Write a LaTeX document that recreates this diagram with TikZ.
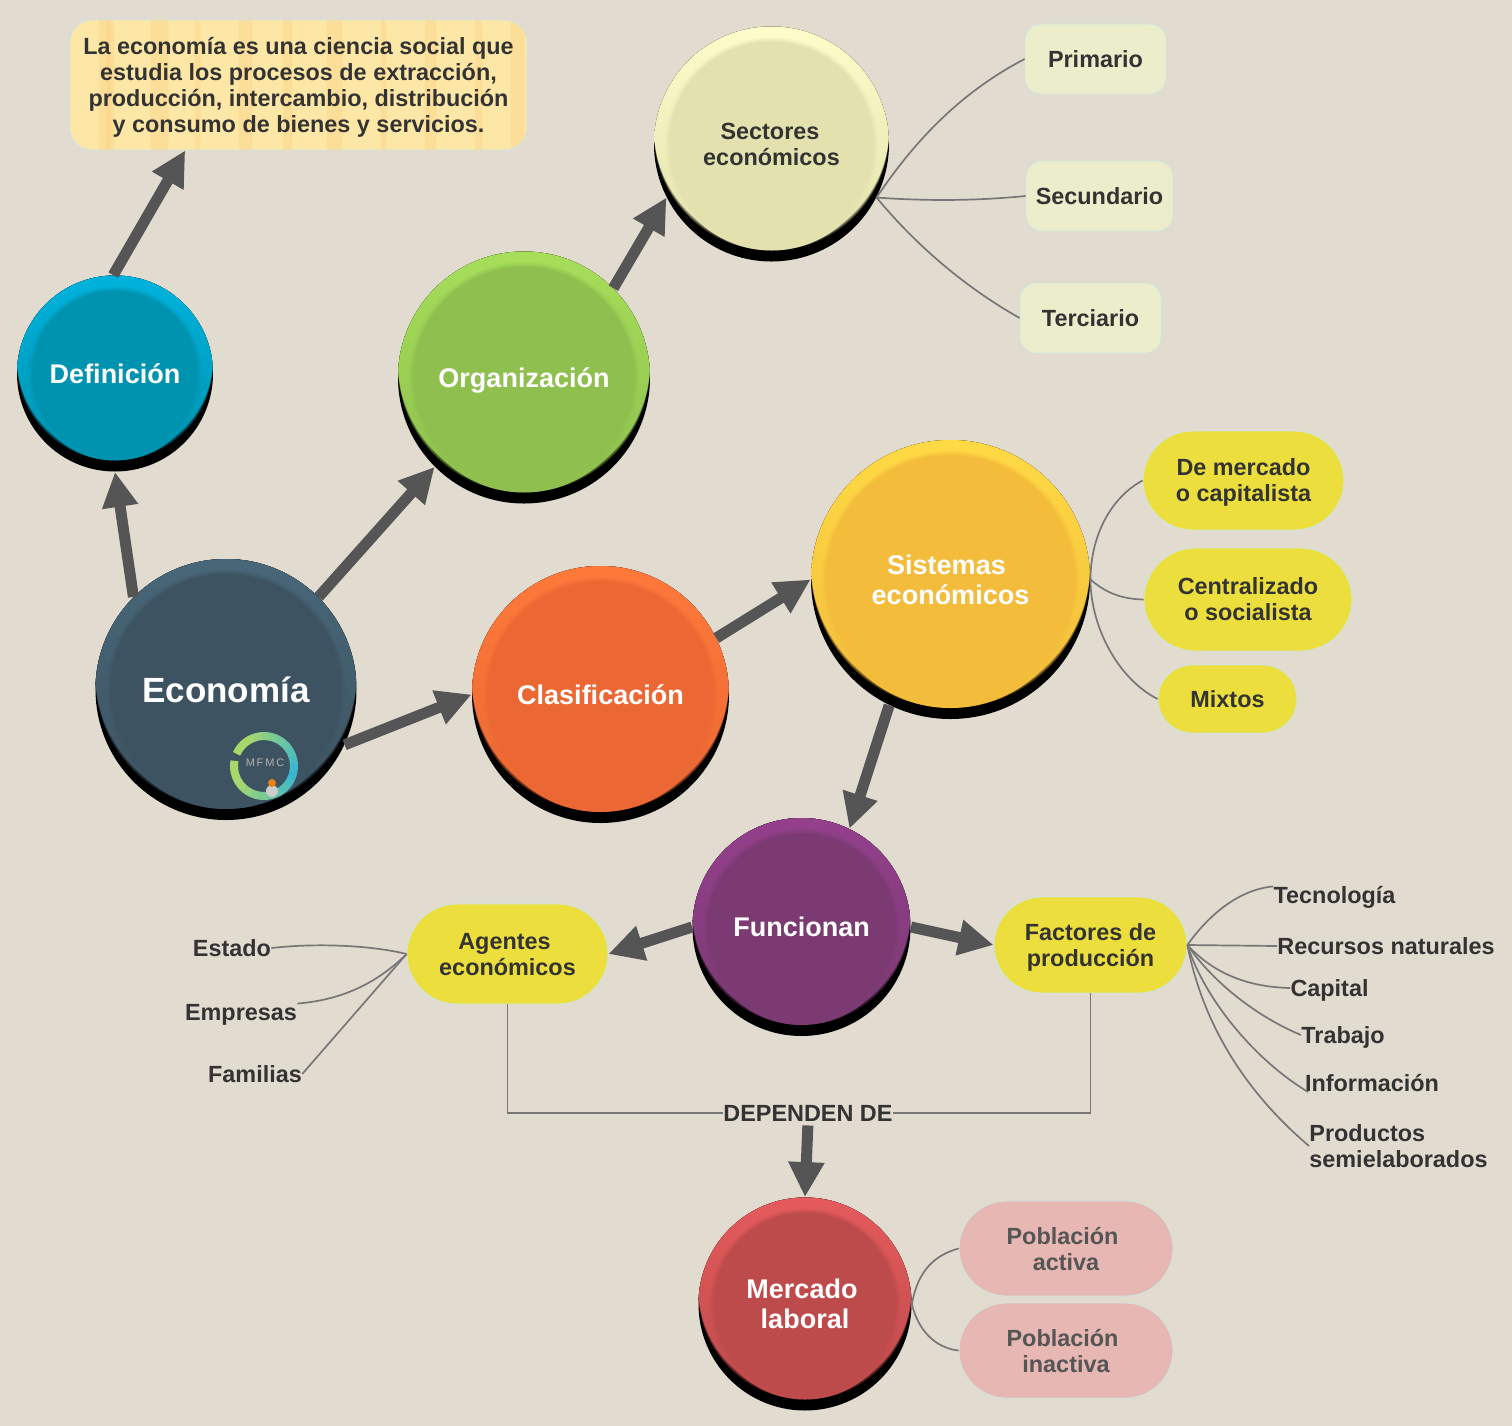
\documentclass[tikz,border=0pt]{standalone}
\usepackage{fontspec}
\setmainfont{Liberation Sans}
\usetikzlibrary{arrows.meta,calc,shapes.misc}
\definecolor{paper}{HTML}{E1DBD0}
\definecolor{ink}{HTML}{333333}
\definecolor{arrowgray}{HTML}{555555}
\definecolor{linegray}{HTML}{777777}
\definecolor{edgeblue}{HTML}{CFE6E0}
\definecolor{notecol}{HTML}{FDE7A6}
\definecolor{palecol}{HTML}{ECEECB}
\definecolor{pillcol}{HTML}{ECDF3D}
\definecolor{pinkcol}{HTML}{E6B7B3}
\definecolor{logogreen}{HTML}{A8D86A}
\definecolor{logoblue}{HTML}{35B5D5}
\definecolor{econbody}{HTML}{3E5361}
\definecolor{econrim}{HTML}{48687A}
\definecolor{defbody}{HTML}{0093B0}
\definecolor{defrim}{HTML}{00B5E0}
\definecolor{orgbody}{HTML}{8FC04F}
\definecolor{orgrim}{HTML}{A8E05A}
\definecolor{secbody}{HTML}{E3E2AE}
\definecolor{secrim}{HTML}{FFFFCC}
\definecolor{clabody}{HTML}{EB6834}
\definecolor{clarim}{HTML}{FF7A3A}
\definecolor{sisbody}{HTML}{F3BC3B}
\definecolor{sisrim}{HTML}{FFDC45}
\definecolor{funbody}{HTML}{7B3A72}
\definecolor{funrim}{HTML}{96408F}
\definecolor{merbody}{HTML}{BE4B4B}
\definecolor{merrim}{HTML}{E85C5E}
\tikzset{
    ball/.style n args={3}{circle, inner sep=0pt, fill=black, minimum size=#3*0.5pt, align=center,
        font=\bfseries\fontsize{13.5}{15}\selectfont, text=white, text depth=0pt,
        path picture={
            \pgfmathsetlengthmacro\ballr{#3*0.25}
            \path (path picture bounding box.center) coordinate (ballc);
            \foreach \tone/\lift in {70/5.5pt, 45/6.25pt, 20/7pt}
                \fill[black!\tone!#1] ($(ballc)+(0,\lift)$) circle [radius=\ballr];
            \shade[top color=#2, middle color=#1, bottom color=#1] ($(ballc)+(0,7.5pt)$) circle [radius=\ballr];
            \foreach \tone/\cut in {66/5.5pt, 33/6.5pt}
                \shade[top color=#2!\tone!#1, middle color=#1, bottom color=#1] (ballc) circle [radius=\ballr-\cut];
            \fill[#1] (ballc) circle [radius=\ballr-7.5pt];
        }},
    darktext/.style={font=\bfseries\fontsize{11.7}{13}\selectfont, text=ink, align=center, text depth=0pt},
    card/.style={darktext, rectangle, rounded corners=8pt, draw=edgeblue, fill=palecol, inner sep=0pt},
    pill/.style={darktext, rounded rectangle, draw=edgeblue, fill=pillcol, inner sep=0pt},
    word/.style={darktext, inner sep=0pt},
    bigarrow/.style={draw=arrowgray, line width=5.5pt, -{Triangle[length=17.5pt, width=17pt]}},
    twig/.style={draw=linegray, line width=0.85pt},
    wood/.style={path picture={
        \foreach \sx/\sw in {-100/6pt, -96/4pt, -74/9pt, -52/3pt, -30/7pt, -8/5pt, 14/8pt, 41/3pt, 63/6pt, 88/4pt, 106/7pt}
            \fill[orange!60!notecol, opacity=0.13] ($(path picture bounding box.center)+(\sx pt,-40pt)$) rectangle ++(\sw,80pt);
    }},
}
\begin{document}
\begin{tikzpicture}[x=0.5pt, y=-0.5pt]
    \fill[paper] (0,0) rectangle (1512,1426);
    \useasboundingbox (0,0) rectangle (1512,1426);

    \node[ball={econbody}{econrim}{261}, font=\bfseries\fontsize{17.5}{19}\selectfont] (econo) at (226,689.5) {Economía};
    \node[ball={defbody}{defrim}{196}] (defin) at (115,373.5) {Definición};
    \node[ball={orgbody}{orgrim}{252}] (organ) at (524,377.5) {Organización};
    \node[ball={secbody}{secrim}{235}, darktext] (sector) at (771.5,144) {Sectores\hspace*{1.5pt}\\económicos};
    \node[ball={clabody}{clarim}{257}] (clasif) at (600.5,694.5) {Clasificación};
    \node[ball={sisbody}{sisrim}{279}] (sistem) at (950.5,579.5) {Sistemas\hspace*{4pt}\\económicos};
    \node[ball={funbody}{funrim}{218}] (funcio) at (801.5,927) {Funcionan};
    \node[ball={merbody}{merrim}{213}] (merca) at (805,1304) {Mercado\hspace*{3pt}\\laboral};

    \node[card, wood, fill=notecol, rounded corners=11pt, minimum width=228.5pt, minimum height=65pt] (note) at (298.5,85)
        {La economía es una ciencia social que\\estudia los procesos de extracción,\\producción, intercambio, distribución\\y consumo de bienes y servicios.};

    \node[card, minimum width=70.5pt, minimum height=35pt] (prima) at (1095.5,59) {Primario};
    \node[card, minimum width=73.5pt, minimum height=35pt] (secun) at (1099.5,196) {Secundario};
    \node[card, minimum width=70.5pt, minimum height=35pt] (terci) at (1090.5,318) {Terciario};

    \node[pill, minimum width=100.5pt, minimum height=49.5pt] (merc) at (1243.5,480.5) {De mercado\\o capitalista};
    \node[pill, minimum width=104pt, minimum height=51.5pt] (centr) at (1248,599.5) {Centralizado\\o socialista};
    \node[pill, minimum width=69.5pt, minimum height=34pt] (mixto) at (1227.5,699) {Mixtos};
    \node[pill, minimum width=100.5pt, minimum height=50pt] (agent) at (507.5,954) {Agentes\hspace*{3pt}\\económicos};
    \node[pill, minimum width=96.5pt, minimum height=48pt] (facto) at (1090.5,945) {Factores de\\producción};
    \node[pill, fill=pinkcol, text=arrowgray, minimum width=107pt, minimum height=47.5pt] (activa) at (1066,1248.5) {Población\hspace*{3.5pt}\\activa};
    \node[pill, fill=pinkcol, text=arrowgray, minimum width=107pt, minimum height=47.5pt] (inacti) at (1066,1350.5) {Población\hspace*{3.5pt}\\inactiva};

    \node[word] (estado) at (232,948) {Estado};
    \node[word] (empre) at (241,1012) {Empresas};
    \node[word] (famil) at (255,1074) {Familias};
    \node[word] (tecno) at (1334.5,895) {Tecnología};
    \node[word] (recur) at (1386,946) {Recursos naturales};
    \node[word] (capit) at (1329.5,988) {Capital};
    \node[word] (traba) at (1343,1035) {Trabajo};
    \node[word] (infor) at (1372,1083) {Información};
    \node[word, align=left] (produ) at (1398.5,1146) {Productos\\semielaborados};
    \node[word] (depen) at (808,1113) {DEPENDEN DE};

    \draw[bigarrow] (econo.135) -- (defin.south);
    \draw[bigarrow] (econo.45) -- (organ.225);
    \draw[bigarrow] (econo.-25) -- (clasif.west);
    \draw[bigarrow] (defin.91) -- (note.210);
    \draw[bigarrow] (organ.45) -- (sector.207);
    \draw[bigarrow] (clasif.26) -- (sistem.west);
    \draw[bigarrow] (sistem.-116) -- (funcio.64);
    \draw[bigarrow] (funcio.west) -- (agent.east);
    \draw[bigarrow] (funcio.east) -- (facto.west);
    \draw[bigarrow, shorten <=2pt] (depen.south) -- (merca.north);

    \draw[twig] (sector.-27) .. controls (925,125) and (975,85) .. (prima.west);
    \draw[twig] (sector.-27) .. controls (925,201) and (975,201) .. (secun.west);
    \draw[twig] (sector.-27) .. controls (920,250) and (970,290) .. (terci.west);

    \draw[twig] (sistem.east) .. controls (1091,530) and (1115,495) .. (merc.west);
    \draw[twig] (sistem.east) .. controls (1105,592) and (1120,599) .. (centr.west);
    \draw[twig] (sistem.east) .. controls (1091,630) and (1120,680) .. (mixto.west);

    \draw[twig] (agent.west) .. controls (370,945) and (315,943) .. (estado.east);
    \draw[twig] (agent.west) .. controls (375,985) and (340,1000) .. (empre.north east);
    \draw[twig] (agent.west) -- (famil.east);

    \draw[twig] (facto.east) .. controls (1205,920) and (1235,890) .. (tecno.172);
    \draw[twig] (facto.east) -- (recur.west);
    \draw[twig] (facto.east) .. controls (1215,975) and (1250,987) .. (capit.west);
    \draw[twig] (facto.east) .. controls (1215,985) and (1260,1018) .. (traba.west);
    \draw[twig] (facto.east) .. controls (1205,1000) and (1255,1060) .. (infor.188);
    \draw[twig] (facto.east) .. controls (1205,1035) and (1255,1100) .. (produ.west);

    \draw[twig] (merca.east) .. controls (918,1270) and (935,1255) .. (activa.west);
    \draw[twig] (merca.east) .. controls (918,1330) and (935,1348) .. (inacti.west);

    \draw[twig] (agent.south) |- (depen.west);
    \draw[twig] (facto.south) |- (depen.east);

    \coordinate (logo) at (264,766);
    \foreach \a in {170,185,...,500}{
        \pgfmathsetmacro\mixval{max(0,100-abs(\a-340)*0.75)}
        \draw[logoblue!\mixval!logogreen, line width=4pt] (logo) ++(\a:15pt) arc [start angle=\a, end angle=\a+16, radius=15pt];
    }
    \node[text=gray!60, font=\fontsize{5.5}{6}\selectfont, inner sep=0pt] (logotext) at (265,763) {M\,F\,M\,C};
    \fill[gray!40] (272,791) circle [radius=3pt];
    \fill[orange!70!brown] (272,783) circle [radius=2pt];
\end{tikzpicture}
\end{document}
